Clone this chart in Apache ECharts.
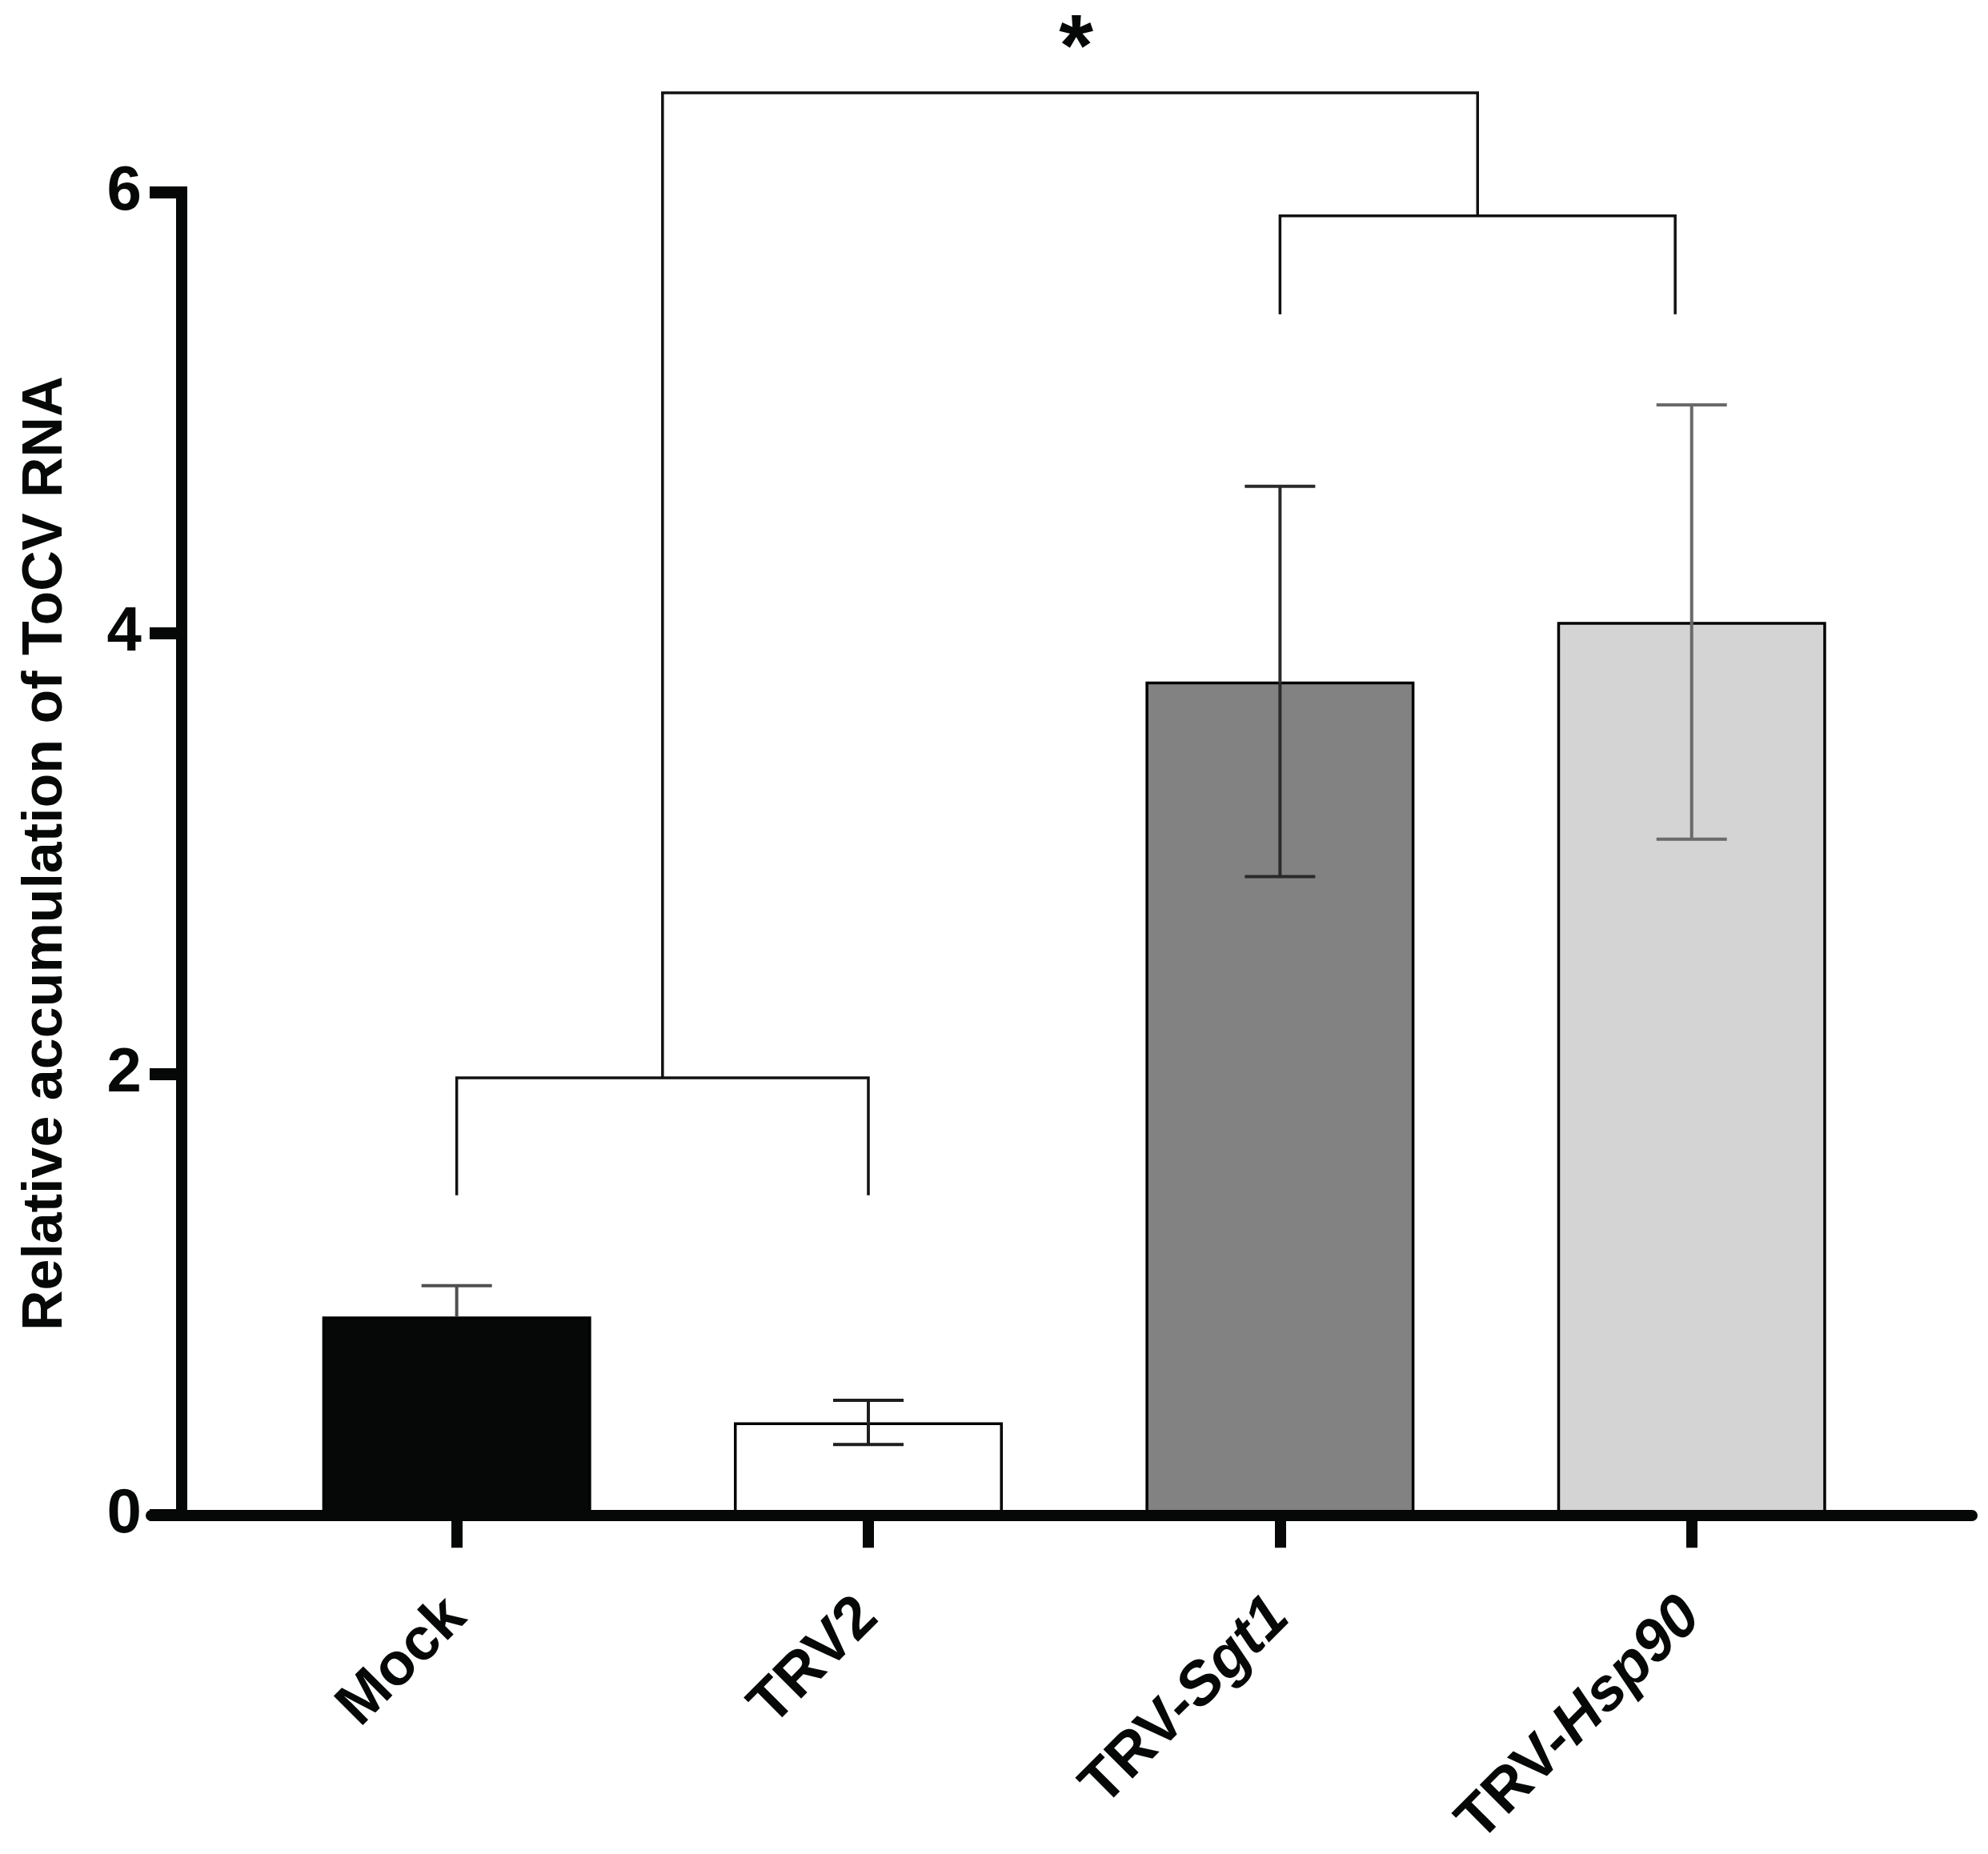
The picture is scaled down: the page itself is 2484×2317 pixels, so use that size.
<!DOCTYPE html>
<html>
<head>
<meta charset="utf-8">
<script src="https://cdn.jsdelivr.net/npm/echarts@6/dist/echarts.min.js"></script>
<style>
html,body{margin:0;padding:0;background:#ffffff;}
#c{width:2484px;height:2317px;}
</style>
</head>
<body>
<div id="c"></div>
<script>
// ---- data ----
const categories = ['Mock', 'TRV2', 'TRV-Sgt1', 'TRV-Hsp90'];
const labelPlain = ['Mock', 'TRV2', 'TRV-', 'TRV-'];
const labelItalic = ['', '', 'Sgt1', 'Hsp90'];
const categoryPos = [0, 1, 2, 3];
const means = [0.90, 0.42, 3.78, 4.05];
const errors = [0.14, 0.10, 0.885, 0.985];
const lowerErrorShown = [false, true, true, true];
const yTicks = [0, 2, 4, 6];
const yTitle = 'Relative accumulation of ToCV RNA';
// significance brackets: [from, to, leg bottom, bracket level]
const bracketFrom = [0, 2];
const bracketTo = [1, 2.96];
const bracketLegBottom = [1.45, 5.446];
const bracketLevel = [1.983, 5.892];
const topLevel = 6.45;
const sigText = '*';
const sigPos = [1.505, 6.64];

// ---- styles ----
const INK = '#060808';
const FONT = '"Liberation Sans", Arial, Helvetica, sans-serif';
const barColors = ['#060808', '#ffffff', '#828282', '#d3d4d3'];
const errColors = ['#505050', '#1e1e1e', '#2a2a2a', '#6a6a6a'];

const chart = echarts.init(document.getElementById('c'), null, {renderer: 'canvas'});

const labelRich = {
  n: {fontSize: 75, fontWeight: 'bold', fontStyle: 'normal', fontFamily: FONT, color: INK},
  i: {fontSize: 75, fontWeight: 'bold', fontStyle: 'italic', fontFamily: FONT, color: INK}
};

const bracketData = bracketFrom.map((f, k) => [f, bracketTo[k], bracketLegBottom[k], bracketLevel[k]]);
const mids = bracketFrom.map((f, k) => (f + bracketTo[k]) / 2);

const option = {
  animation: false,
  backgroundColor: '#ffffff',
  grid: {left: 189, right: 20, top: 240, bottom: 422, containLabel: false},
  xAxis: {
    type: 'value',
    min: -0.742,
    max: 3.681,
    z: 5,
    axisLine: {show: true, onZero: false, lineStyle: {color: INK, width: 14}},
    axisTick: {show: true, customValues: categoryPos, length: 41, lineStyle: {color: INK, width: 14}},
    axisLabel: {
      show: true,
      customValues: categoryPos,
      rotate: 45,
      margin: 116,
      formatter: function (v) {
        const i = Math.round(v);
        let s = '{n|' + labelPlain[i] + '}';
        if (labelItalic[i]) s += '{i|' + labelItalic[i] + '}';
        return s;
      },
      rich: labelRich
    },
    splitLine: {show: false}
  },
  yAxis: {
    type: 'value',
    min: yTicks[0],
    max: yTicks[yTicks.length - 1],
    interval: yTicks[1] - yTicks[0],
    offset: -38,
    z: 5,
    axisLine: {show: true, onZero: false, lineStyle: {color: INK, width: 14, cap: 'square'}},
    axisTick: {show: true, length: 40, lineStyle: {color: INK, width: 15}},
    axisLabel: {margin: 50, fontSize: 78, fontWeight: 'bold', fontFamily: FONT, color: INK},
    splitLine: {show: false},
    name: yTitle,
    nameLocation: 'middle',
    nameRotate: 90,
    nameGap: 134,
    nameTextStyle: {fontSize: 70, fontWeight: 'bold', fontFamily: FONT, color: INK}
  },
  series: [
    {
      type: 'bar',
      barWidth: 336,
      z: 2,
      itemStyle: {borderColor: '#000000', borderWidth: 3.5},
      data: means.map((m, i) => ({value: [categoryPos[i], m], itemStyle: {color: barColors[i]}}))
    },
    {
      type: 'custom',
      z: 4,
      clip: false,
      encode: {x: 0, y: 1},
      data: means.map((m, i) => [categoryPos[i], m, errors[i], lowerErrorShown[i] ? 1 : 0]),
      renderItem: function (params, api) {
        const x = api.value(0), m = api.value(1), e = api.value(2), low = api.value(3);
        const top = api.coord([x, m + e]);
        const mid = api.coord([x, m]);
        const bot = api.coord([x, m - e]);
        const hw = 44;
        const st = {stroke: errColors[params.dataIndex], lineWidth: 4};
        const children = [
          {type: 'line', shape: {x1: top[0], y1: top[1], x2: mid[0], y2: mid[1]}, style: st},
          {type: 'line', shape: {x1: top[0] - hw, y1: top[1], x2: top[0] + hw, y2: top[1]}, style: st}
        ];
        if (low) {
          children.push({type: 'line', shape: {x1: mid[0], y1: mid[1], x2: bot[0], y2: bot[1]}, style: st});
          children.push({type: 'line', shape: {x1: bot[0] - hw, y1: bot[1], x2: bot[0] + hw, y2: bot[1]}, style: st});
        }
        return {type: 'group', children: children};
      }
    },
    {
      type: 'custom',
      z: 4,
      clip: false,
      encode: {x: 0, y: 3},
      data: bracketData,
      renderItem: function (params, api) {
        const f = api.value(0), t = api.value(1), lb = api.value(2), lv = api.value(3);
        const mid = (f + t) / 2;
        const p1 = api.coord([f, lb]), p2 = api.coord([f, lv]), p3 = api.coord([t, lv]), p4 = api.coord([t, lb]);
        const m1 = api.coord([mid, lv]), m2 = api.coord([mid, topLevel]);
        const st = {stroke: '#111111', lineWidth: 3.5, fill: null};
        return {
          type: 'group',
          children: [
            {type: 'polyline', shape: {points: [p1, p2, p3, p4]}, style: st},
            {type: 'line', shape: {x1: m1[0], y1: m1[1], x2: m2[0], y2: m2[1]}, style: st}
          ]
        };
      }
    },
    {
      type: 'custom',
      z: 4,
      clip: false,
      encode: {x: 0, y: 2},
      data: [[mids[0], mids[1], topLevel, sigPos[0], sigPos[1]]],
      renderItem: function (params, api) {
        const a = api.coord([api.value(0), api.value(2)]);
        const b = api.coord([api.value(1), api.value(2)]);
        const s = api.coord([api.value(3), api.value(4)]);
        return {
          type: 'group',
          children: [
            {type: 'line', shape: {x1: a[0] - 1.75, y1: a[1], x2: b[0] + 1.75, y2: b[1]}, style: {stroke: '#111111', lineWidth: 3.5}},
            {type: 'text', style: {text: sigText, x: s[0], y: s[1], textAlign: 'center', textVerticalAlign: 'middle',
              font: 'bold 110px ' + FONT, fill: INK}}
          ]
        };
      }
    }
  ]
};
chart.setOption(option);
</script>
</body>
</html>
